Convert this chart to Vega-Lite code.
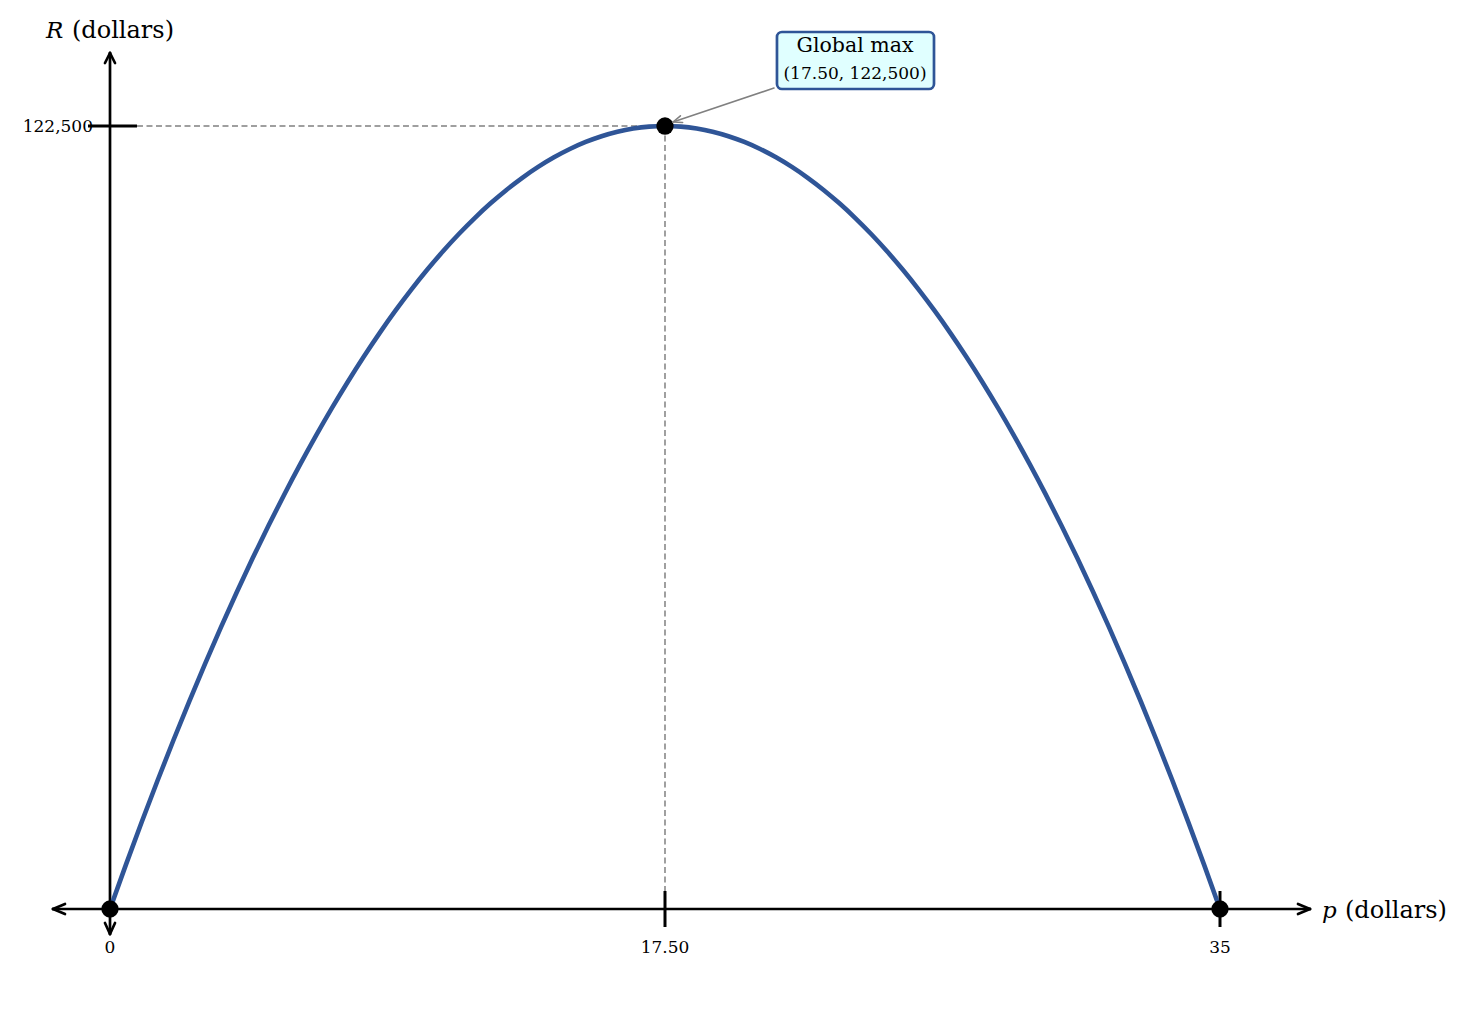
{
  "$schema": "https://vega.github.io/schema/vega-lite/v6.json",
  "description": "Revenue R = 400p(35 - p), with its global maximum at p = 17.50.",
  "width": 1464,
  "height": 1020,
  "autosize": {"type": "none"},
  "padding": 0,
  "background": "white",
  "config": {"view": {"stroke": null}, "axis": {"disable": true}},
  "datasets": {
    "curve": [
      {"p": 0, "R": 0}, {"p": 0.5, "R": 6900}, {"p": 1, "R": 13600}, {"p": 1.5, "R": 20100},
      {"p": 2, "R": 26400}, {"p": 2.5, "R": 32500}, {"p": 3, "R": 38400}, {"p": 3.5, "R": 44100},
      {"p": 4, "R": 49600}, {"p": 4.5, "R": 54900}, {"p": 5, "R": 60000}, {"p": 5.5, "R": 64900},
      {"p": 6, "R": 69600}, {"p": 6.5, "R": 74100}, {"p": 7, "R": 78400}, {"p": 7.5, "R": 82500},
      {"p": 8, "R": 86400}, {"p": 8.5, "R": 90100}, {"p": 9, "R": 93600}, {"p": 9.5, "R": 96900},
      {"p": 10, "R": 100000}, {"p": 10.5, "R": 102900}, {"p": 11, "R": 105600}, {"p": 11.5, "R": 108100},
      {"p": 12, "R": 110400}, {"p": 12.5, "R": 112500}, {"p": 13, "R": 114400}, {"p": 13.5, "R": 116100},
      {"p": 14, "R": 117600}, {"p": 14.5, "R": 118900}, {"p": 15, "R": 120000}, {"p": 15.5, "R": 120900},
      {"p": 16, "R": 121600}, {"p": 16.5, "R": 122100}, {"p": 17, "R": 122400}, {"p": 17.5, "R": 122500},
      {"p": 18, "R": 122400}, {"p": 18.5, "R": 122100}, {"p": 19, "R": 121600}, {"p": 19.5, "R": 120900},
      {"p": 20, "R": 120000}, {"p": 20.5, "R": 118900}, {"p": 21, "R": 117600}, {"p": 21.5, "R": 116100},
      {"p": 22, "R": 114400}, {"p": 22.5, "R": 112500}, {"p": 23, "R": 110400}, {"p": 23.5, "R": 108100},
      {"p": 24, "R": 105600}, {"p": 24.5, "R": 102900}, {"p": 25, "R": 100000}, {"p": 25.5, "R": 96900},
      {"p": 26, "R": 93600}, {"p": 26.5, "R": 90100}, {"p": 27, "R": 86400}, {"p": 27.5, "R": 82500},
      {"p": 28, "R": 78400}, {"p": 28.5, "R": 74100}, {"p": 29, "R": 69600}, {"p": 29.5, "R": 64900},
      {"p": 30, "R": 60000}, {"p": 30.5, "R": 54900}, {"p": 31, "R": 49600}, {"p": 31.5, "R": 44100},
      {"p": 32, "R": 38400}, {"p": 32.5, "R": 32500}, {"p": 33, "R": 26400}, {"p": 33.5, "R": 20100},
      {"p": 34, "R": 13600}, {"p": 34.5, "R": 6900}, {"p": 35, "R": 0}
    ],
    "keyPoints": [
      {"p": 0, "R": 0},
      {"p": 17.5, "R": 122500},
      {"p": 35, "R": 0}
    ],
    "axisLines": [
      {"p": -1.797, "R": 0, "p2": 37.838, "R2": 0},
      {"p": -1.797, "R": 0, "p2": -1.419, "R2": 782},
      {"p": -1.797, "R": 0, "p2": -1.419, "R2": -782},
      {"p": 37.838, "R": 0, "p2": 37.459, "R2": 782},
      {"p": 37.838, "R": 0, "p2": 37.459, "R2": -782},
      {"p": 0, "R": -3911, "p2": 0, "R2": 133921},
      {"p": 0, "R": 133921, "p2": -0.158, "R2": 132357},
      {"p": 0, "R": 133921, "p2": 0.158, "R2": 132357},
      {"p": 0, "R": -3911, "p2": -0.158, "R2": -2190},
      {"p": 0, "R": -3911, "p2": 0.158, "R2": -2190}
    ],
    "ticks": [
      {"p": -0.694, "R": 122500, "p2": 0.851, "R2": 122500},
      {"p": 17.5, "R": 2816, "p2": 17.5, "R2": -2816},
      {"p": 35, "R": 2816, "p2": 35, "R2": -2816}
    ],
    "guides": [
      {"p": 0.851, "R": 122500, "p2": 17.5, "R2": 122500},
      {"p": 17.5, "R": 122500, "p2": 17.5, "R2": 2816}
    ],
    "pointer": [
      {"p": 20.937, "R": 128445, "p2": 17.752, "R2": 123126},
      {"p": 17.752, "R": 123126, "p2": 18.056, "R2": 123056},
      {"p": 17.752, "R": 123126, "p2": 17.986, "R2": 124095}
    ],
    "box": [
      {"p": 21.031, "R": 137207, "p2": 25.982, "R2": 128289}
    ],
    "varLabels": [
      {"p": -2.018, "R": 136268, "text": "R"},
      {"p": 38.216, "R": -1408, "text": "p"}
    ],
    "unitLabels": [
      {"p": -1.198, "R": 136268, "text": "(dollars)"},
      {"p": 38.941, "R": -1408, "text": "(dollars)"}
    ],
    "xTickLabels": [
      {"p": 0, "R": -6884, "text": "0"},
      {"p": 17.5, "R": -6884, "text": "17.50"},
      {"p": 35, "R": -6884, "text": "35"}
    ],
    "yTickLabels": [
      {"p": -0.536, "R": 121562, "text": "122,500"}
    ],
    "boxTitle": [
      {"p": 23.491, "R": 134078, "text": "Global max"}
    ],
    "boxValue": [
      {"p": 23.491, "R": 129854, "text": "(17.50, 122,500)"}
    ]
  },
  "encoding": {
    "x": {"field": "p", "type": "quantitative", "scale": {"domain": [-3.4685, 42.694], "nice": false, "zero": false}, "axis": null},
    "y": {"field": "R", "type": "quantitative", "scale": {"domain": [-17366, 142213], "nice": false, "zero": false}, "axis": null}
  },
  "layer": [
    {
      "data": {"name": "guides"},
      "mark": {"type": "rule", "color": "#808080", "strokeWidth": 1.5, "strokeDash": [6, 3.5]},
      "encoding": {"x2": {"field": "p2"}, "y2": {"field": "R2"}}
    },
    {
      "data": {"name": "axisLines"},
      "mark": {"type": "rule", "color": "black", "strokeWidth": 2.7, "strokeCap": "round"},
      "encoding": {"x2": {"field": "p2"}, "y2": {"field": "R2"}}
    },
    {
      "data": {"name": "ticks"},
      "mark": {"type": "rule", "color": "black", "strokeWidth": 3},
      "encoding": {"x2": {"field": "p2"}, "y2": {"field": "R2"}}
    },
    {
      "data": {"name": "curve"},
      "mark": {"type": "line", "color": "#2f5597", "strokeWidth": 4.6, "interpolate": "monotone"},
      "encoding": {"order": {"field": "p", "type": "quantitative"}}
    },
    {
      "data": {"name": "keyPoints"},
      "mark": {"type": "point", "shape": "circle", "filled": true, "color": "black", "size": 300, "opacity": 1},
      "encoding": {}
    },
    {
      "data": {"name": "pointer"},
      "mark": {"type": "rule", "color": "#808080", "strokeWidth": 1.6, "strokeCap": "round"},
      "encoding": {"x2": {"field": "p2"}, "y2": {"field": "R2"}}
    },
    {
      "data": {"name": "box"},
      "mark": {"type": "rect", "fill": "#e0ffff", "stroke": "#2f5597", "strokeWidth": 2.7, "cornerRadius": 5},
      "encoding": {"x2": {"field": "p2"}, "y2": {"field": "R2"}}
    },
    {
      "data": {"name": "varLabels"},
      "mark": {"type": "text", "font": "DejaVu Serif", "fontSize": 23, "fontStyle": "italic", "align": "left", "baseline": "alphabetic", "color": "black"},
      "encoding": {"text": {"field": "text"}}
    },
    {
      "data": {"name": "unitLabels"},
      "mark": {"type": "text", "font": "DejaVu Serif", "fontSize": 24, "align": "left", "baseline": "alphabetic", "color": "black"},
      "encoding": {"text": {"field": "text"}}
    },
    {
      "data": {"name": "xTickLabels"},
      "mark": {"type": "text", "font": "DejaVu Serif", "fontSize": 17, "align": "center", "baseline": "alphabetic", "color": "black"},
      "encoding": {"text": {"field": "text"}}
    },
    {
      "data": {"name": "yTickLabels"},
      "mark": {"type": "text", "font": "DejaVu Serif", "fontSize": 17, "align": "right", "baseline": "alphabetic", "color": "black"},
      "encoding": {"text": {"field": "text"}}
    },
    {
      "data": {"name": "boxTitle"},
      "mark": {"type": "text", "font": "DejaVu Serif", "fontSize": 20.5, "align": "center", "baseline": "alphabetic", "color": "black"},
      "encoding": {"text": {"field": "text"}}
    },
    {
      "data": {"name": "boxValue"},
      "mark": {"type": "text", "font": "DejaVu Serif", "fontSize": 17, "align": "center", "baseline": "alphabetic", "color": "black"},
      "encoding": {"text": {"field": "text"}}
    }
  ]
}
